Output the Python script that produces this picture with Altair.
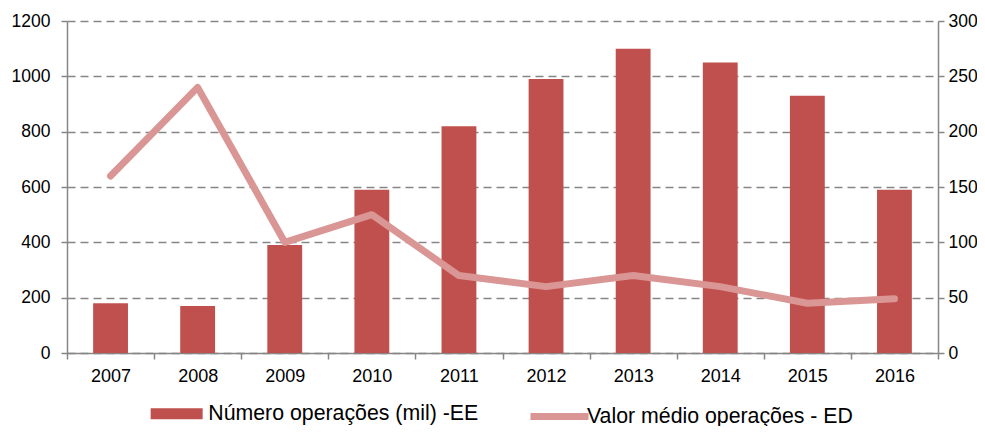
import altair as alt
import pandas as pd

YEARS = ["2007", "2008", "2009", "2010", "2011", "2012", "2013", "2014", "2015", "2016"]
NUM_OPS = [180, 170, 390, 590, 820, 990, 1100, 1050, 930, 590]
VAL_MEDIO = [160, 240, 100, 125, 70, 60, 70, 60, 45, 49]
SERIE_BAR = "Número operações (mil) -EE"
SERIE_LINE = "Valor médio operações - ED"
LEFT_TICKS = [0, 200, 400, 600, 800, 1000, 1200]
RIGHT_TICKS = [0, 50, 100, 150, 200, 250, 300]

df = pd.DataFrame({
    "ano": YEARS,
    "num": NUM_OPS,
    "val": VAL_MEDIO,
    "sb": [SERIE_BAR] * len(YEARS),
    "sl": [SERIE_LINE] * len(YEARS),
})

FONT = "Liberation Sans"
GRAY = "#868686"
BAR_COLOR = "#C0504D"
LINE_COLOR = "#D99694"

x_enc = alt.X(
    "ano:O", sort=YEARS, title=None,
    scale=alt.Scale(paddingInner=0, paddingOuter=0, round=False),
    axis=alt.Axis(labelAngle=0, tickBand="extent", tickSize=6, labelPadding=8,
                  domainColor=GRAY, tickColor=GRAY, domainWidth=1.5, tickWidth=1.5,
                  labelFontSize=18, labelFont=FONT, labelColor="#000", grid=False),
)

bars = alt.Chart(df).mark_bar(width=alt.RelativeBandSize(0.4)).encode(
    x=x_enc,
    y=alt.Y("num:Q", title=None,
            scale=alt.Scale(domain=[0, 1200], nice=False),
            axis=alt.Axis(values=LEFT_TICKS, format="d", orient="left", grid=True,
                          gridDash=[8, 5], gridColor=GRAY, gridWidth=1.5, tickSize=6,
                          labelPadding=11, domainColor=GRAY, tickColor=GRAY,
                          domainWidth=1.5, tickWidth=1.5,
                          labelFontSize=17.5, labelFont=FONT, labelColor="#000")),
    color=alt.Color("sb:N", scale=alt.Scale(domain=[SERIE_BAR], range=[BAR_COLOR]),
                    legend=alt.Legend(title=None, orient="none", legendX=83, legendY=382,
                                      symbolType="M-1,-0.55H4.2V0.55H-1Z", symbolSize=400,
                                      symbolStrokeWidth=0, labelOffset=37, labelFontSize=21.3,
                                      labelFont=FONT, labelColor="#000", labelLimit=500,
                                      padding=0)),
)

line = alt.Chart(df).mark_line(strokeWidth=7, strokeCap="round", strokeJoin="round").encode(
    x=x_enc,
    y=alt.Y("val:Q", title=None,
            scale=alt.Scale(domain=[0, 300], nice=False),
            axis=alt.Axis(values=RIGHT_TICKS, format="d", orient="right", grid=False,
                          tickSize=6, labelPadding=4, domainColor=GRAY, tickColor=GRAY,
                          domainWidth=1.5, tickWidth=1.5,
                          labelFontSize=17.5, labelFont=FONT, labelColor="#000")),
    stroke=alt.Stroke("sl:N", scale=alt.Scale(domain=[SERIE_LINE], range=[LINE_COLOR]),
                      legend=alt.Legend(title=None, orient="none", legendX=460, legendY=382,
                                        symbolType="M-1,0H4.8", symbolSize=400,
                                        symbolStrokeWidth=7, symbolFillColor="transparent",
                                        labelOffset=33, labelFontSize=21.3,
                                        labelFont=FONT, labelColor="#000", labelLimit=500,
                                        padding=0)),
)

chart = alt.layer(bars, line).resolve_scale(y="independent").properties(
    width=871, height=332,
    autosize=alt.AutoSizeParams(type="none"),
    padding={"left": 59, "top": 13, "right": 39, "bottom": 73},
).configure_view(stroke=None)

chart.save("out.html", embed_options={"renderer": "svg", "actions": False})
